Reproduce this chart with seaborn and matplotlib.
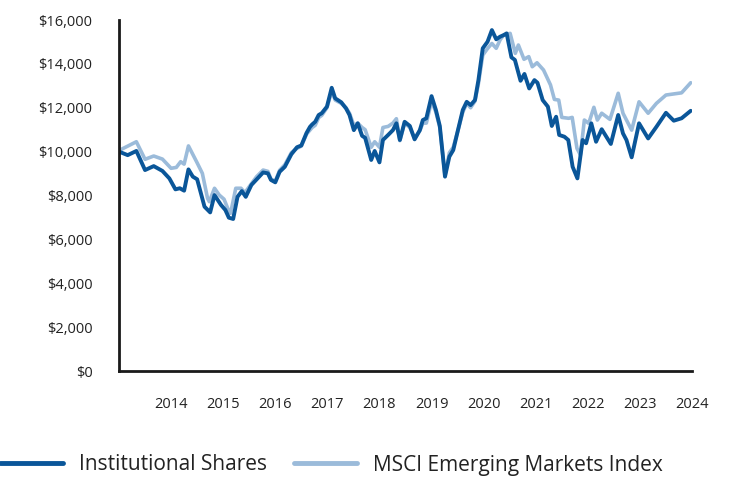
import matplotlib
matplotlib.use("Agg")
import matplotlib.pyplot as plt
import seaborn as sns
import pandas as pd

# months since Jan 2013 (values in $)
fund_months = [0, 2, 4, 6, 8, 10, 11.6, 13, 14, 15, 16, 17, 18, 19.7, 21, 22, 23.5, 24.5,
               25.3, 26.3, 27.3, 28.3, 29.2, 30.5, 33.2, 34.3, 35, 36, 37, 38.2, 39.7, 41,
               42, 43.2, 44, 44.5, 45.2, 46, 46.7, 47.9, 49, 49.8, 51.2, 52.3, 53.1, 54.1,
               55, 56, 56.7, 58.1, 58.9, 60, 60.8, 62, 63.1, 63.9, 64.7, 65.8, 67, 68.1,
               69.3, 70, 70.8, 72, 73, 73.9, 75.1, 76.1, 77, 78, 79.2, 80.1, 81, 82, 82.8,
               83.8, 84.9, 85.9, 86.9, 87.8, 88.6, 89.3, 90.4, 91.2, 92.5, 93.4, 94.5,
               95.7, 96.4, 97.6, 98.8, 99.7, 100.7, 101.4, 102.6, 103.5, 104.5, 105.6,
               106.8, 107.6, 108.8, 109.9, 111.2, 113.3, 115, 116.1, 116.9, 118.1, 119.8,
               121.9, 123.8, 126, 127.8, 129.6, 131.7]
fund_values = [10000, 9840, 10030, 9160, 9340, 9120, 8780, 8280, 8330, 8220, 9190, 8860,
               8740, 7490, 7230, 8020, 7570, 7340, 6990, 6930, 7940, 8200, 7940, 8480, 9050,
               9010, 8710, 8600, 9080, 9310, 9880, 10200, 10280, 10850, 11130, 11240, 11360,
               11670, 11750, 12050, 12910, 12430, 12250, 11970, 11670, 10980, 11290, 10720,
               10630, 9620, 10030, 9510, 10530, 10760, 10980, 11290, 10530, 11360, 11170,
               10560, 10980, 11440, 11520, 12530, 11900, 11170, 8860, 9770, 10070, 10910,
               11900, 12270, 12120, 12350, 13260, 14710, 15010, 15540, 15120, 15240, 15310,
               15390, 14300, 14180, 13230, 13540, 12880, 13260, 13140, 12350, 12050, 11170,
               11590, 10760, 10680, 10530, 9310, 8780, 10530, 10380, 11290, 10450, 11020,
               10350, 11670, 10830, 10530, 9740, 11290, 10600, 11130, 11770, 11410, 11520,
               11860]

index_months = [0, 2, 4, 6, 8, 10, 12, 13.2, 14.2, 15, 16, 18, 19.2, 20.4, 20.8, 22, 23.1,
                24.2, 25.2, 25.7, 26.9, 28.1, 29, 31.7, 33.2, 34.3, 35, 36, 37, 38.2, 39.7,
                41, 42, 43.2, 44.5, 45.2, 46, 46.7, 47.9, 49, 49.8, 51.2, 52.3, 53.1, 54.1,
                55, 56, 56.7, 58.1, 58.9, 60, 60.8, 62, 63.1, 63.9, 64.7, 65.8, 67, 68.1,
                69.3, 70, 70.8, 72, 73, 73.9, 75.1, 76.1, 77, 78, 79.2, 80.1, 81, 82, 82.8,
                83.8, 84.9, 85.9, 86.9, 87.8, 88.6, 90.1, 91.3, 92, 93.3, 94.4, 95.2, 96.3,
                97.8, 99.4, 100.3, 101.3, 102, 103.6, 104.4, 105.5, 106.3, 107.2, 108.2,
                109.4, 110.2, 111.2, 113.1, 115, 116.1, 118.1, 119.8, 121.9, 123.8, 126,
                129.6, 131.7]
index_values = [10050, 10250, 10450, 9650, 9800, 9660, 9240, 9280, 9540, 9430, 10260, 9490,
                9010, 7870, 7720, 8330, 8020, 7830, 7340, 7190, 8330, 8330, 8130, 8860, 9160,
                9100, 8750, 8650, 9150, 9400, 9950, 10150, 10250, 10800, 11100, 11200, 11550,
                11650, 12000, 12750, 12350, 12200, 12000, 11750, 11200, 11300, 11100, 11000,
                10200, 10450, 10200, 11100, 11150, 11300, 11500, 10500, 11300, 11100, 10600,
                10950, 11300, 11300, 12300, 11800, 11100, 8900, 9950, 10200, 10900, 11800,
                12200, 12000, 12300, 13100, 14400, 14700, 14930, 14710, 15100, 15310, 15390,
                14480, 14860, 14210, 14330, 13870, 14050, 13720, 13040, 12380, 12350, 11560,
                11520, 11560, 10150, 9850, 11440, 11290, 12020, 11440, 11750, 11470, 12660,
                11750, 10980, 12270, 11750, 12200, 12580, 12680, 13140]

years = list(range(2014, 2025))
series_names = ["Institutional Shares", "MSCI Emerging Markets Index"]
colors = ["#0A5699", "#9BBBDA"]

fund = pd.DataFrame({"year": [2013 + m / 12 for m in fund_months], "value": fund_values})
index = pd.DataFrame({"year": [2013 + m / 12 for m in index_months], "value": index_values})

sns.set_style("white")
plt.rcParams["font.family"] = ["Open Sans", "DejaVu Sans"]

fig = plt.figure(figsize=(7.32, 4.8), dpi=100)
ax = fig.add_axes([119 / 732, 1 - 371 / 480, (692 - 119) / 732, (371 - 20) / 480])

sns.lineplot(data=index, x="year", y="value", ax=ax, color=colors[1], linewidth=2.6,
             label=series_names[1])
sns.lineplot(data=fund, x="year", y="value", ax=ax, color=colors[0], linewidth=2.8,
             label=series_names[0])

ax.set_xlim(2013, 2024)
ax.set_ylim(0, 16000)
ax.set_xticks(years)
ax.set_xticklabels([str(y) for y in years])
ax.set_yticks(range(0, 16001, 2000))
ax.set_yticklabels([f"${v:,}" for v in range(0, 16001, 2000)])
ax.tick_params(axis="both", length=0, labelsize=10.5, colors="#222222")
ax.tick_params(axis="y", pad=19)
ax.tick_params(axis="x", pad=19)
ax.set_xlabel("")
ax.set_ylabel("")

for side in ["top", "right"]:
    ax.spines[side].set_visible(False)
for side in ["left", "bottom"]:
    ax.spines[side].set_color("#1a1a1a")
    ax.spines[side].set_linewidth(2)

handles, labels = ax.get_legend_handles_labels()
ax.get_legend().remove()
order = [labels.index(n) for n in series_names]
fig.legend([handles[i] for i in order], [labels[i] for i in order],
           loc="center left", bbox_to_anchor=(0.0, 1 - 465 / 480), ncol=2, frameon=False,
           fontsize=15, handlelength=3.0, handletextpad=0.8, columnspacing=1.3,
           borderpad=0, borderaxespad=0, labelcolor="#222222")
for line in fig.legends[0].get_lines():
    line.set_linewidth(3.5)

fig.savefig("out.png", dpi=100)
